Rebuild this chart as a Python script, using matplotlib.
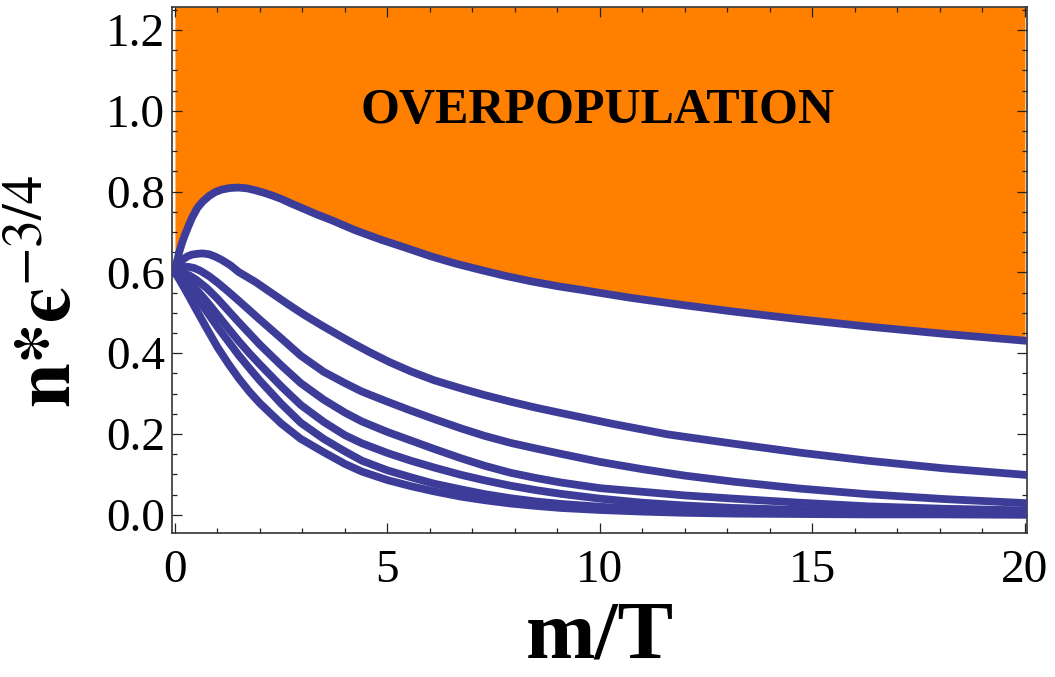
import numpy as np
import matplotlib
matplotlib.use("Agg")
import matplotlib.pyplot as plt
from matplotlib.ticker import MultipleLocator, FormatStrFormatter

plt.rcParams['font.family'] = ['Liberation Serif', 'DejaVu Serif']
plt.rcParams['mathtext.fontset'] = 'stix'

# curves (x = m/T, y = n*eps^-3/4)
x1 = [0, 0.05, 0.1, 0.16, 0.22, 0.3, 0.4, 0.53, 0.65, 0.8, 0.95, 1.1, 1.3, 1.5, 1.7,
      1.9, 2.1, 2.3, 2.5, 2.75, 3.04, 3.35, 3.67, 4.25, 4.85, 5.4, 6.02, 6.6, 7.2,
      7.75, 8.38, 9.0, 9.55, 10.02, 10.73, 11.9, 13.15, 14.7, 16.3, 18.1, 20]
y1 = [0.600, 0.628, 0.650, 0.671, 0.689, 0.710, 0.735, 0.760, 0.775, 0.789, 0.799,
      0.805, 0.809, 0.810, 0.808, 0.803, 0.797, 0.790, 0.782, 0.770, 0.757, 0.743,
      0.730, 0.704, 0.681, 0.662, 0.640, 0.622, 0.606, 0.592, 0.578, 0.566, 0.557,
      0.549, 0.537, 0.520, 0.503, 0.484, 0.466, 0.448, 0.431]

x2 = [0, 0.05, 0.1, 0.2, 0.3, 0.4, 0.52, 0.65, 0.8, 0.95, 1.1, 1.3, 1.5, 1.9, 2.26,
      2.65, 3.04, 3.45, 3.83, 4.2, 4.61, 5.05, 5.55, 6.1, 6.73, 7.3, 7.9, 8.5, 9.08,
      10.26, 11.6, 13.15, 14.7, 16.3, 18.1, 20]
y2 = [0.600, 0.611, 0.620, 0.633, 0.640, 0.644, 0.646, 0.647, 0.645, 0.639, 0.631,
      0.618, 0.601, 0.576, 0.550, 0.522, 0.495, 0.469, 0.446, 0.424, 0.401, 0.378,
      0.355, 0.333, 0.313, 0.296, 0.280, 0.265, 0.252, 0.226, 0.199, 0.176, 0.154,
      0.134, 0.115, 0.099]

x3 = [0, 0.08, 0.15, 0.22, 0.3, 0.45, 0.6, 0.8, 1.0, 1.25, 1.5, 2.0, 2.5, 2.96, 3.5,
      4.0, 4.4, 5.0, 5.55, 6.1, 6.73, 7.3, 7.9, 8.5, 9.08, 10.0, 11.0, 12.0, 13.15,
      14.7, 16.3, 18.1, 20]
y3 = [0.600, 0.607, 0.611, 0.613, 0.614, 0.611, 0.604, 0.591, 0.575, 0.553, 0.530,
      0.483, 0.437, 0.394, 0.354, 0.326, 0.305, 0.280, 0.258, 0.237, 0.214, 0.195,
      0.178, 0.164, 0.151, 0.131, 0.113, 0.097, 0.082, 0.065, 0.051, 0.039, 0.029]

# the four lowest curves share the same x samples
x_low = [0, 0.1, 0.2, 0.35, 0.5, 0.75, 1.0, 1.25, 1.5, 1.75, 2.0, 2.5, 2.96, 3.5,
         4.0, 4.4, 5.0, 5.55, 6.1, 6.73, 7.3, 7.9, 8.5, 9.08, 10.0, 11.0, 12.0,
         13.15, 14.7, 16.3, 18.1, 20]
y4 = [0.600, 0.600, 0.598, 0.592, 0.582, 0.561, 0.535, 0.506, 0.477, 0.449, 0.421,
      0.370, 0.326, 0.285, 0.253, 0.231, 0.205, 0.184, 0.163, 0.140, 0.121, 0.104,
      0.091, 0.080, 0.066, 0.057, 0.048, 0.040, 0.030, 0.021, 0.015, 0.011]
y5 = [0.600, 0.596, 0.590, 0.576, 0.558, 0.528, 0.495, 0.462, 0.430, 0.400, 0.372,
      0.318, 0.272, 0.230, 0.197, 0.177, 0.153, 0.134, 0.117, 0.099, 0.085, 0.072,
      0.061, 0.052, 0.040, 0.030, 0.023, 0.017, 0.012, 0.008, 0.006, 0.005]
y6 = [0.600, 0.593, 0.585, 0.565, 0.540, 0.503, 0.465, 0.430, 0.395, 0.363, 0.332,
      0.275, 0.228, 0.188, 0.157, 0.134, 0.110, 0.093, 0.077, 0.063, 0.051, 0.041,
      0.033, 0.027, 0.020, 0.014, 0.010, 0.007, 0.005, 0.003, 0.002, 0.002]
y7 = [0.600, 0.583, 0.565, 0.537, 0.508, 0.461, 0.415, 0.375, 0.338, 0.305, 0.276,
      0.226, 0.188, 0.155, 0.126, 0.107, 0.086, 0.071, 0.058, 0.045, 0.036, 0.028,
      0.022, 0.017, 0.012, 0.008, 0.005, 0.003, 0.002, 0.001, 0.001, 0.000]

curves = [(x1, y1), (x2, y2), (x3, y3), (x_low, y4), (x_low, y5), (x_low, y6), (x_low, y7)]

blue = '#3d3c99'
orange = '#ff7f00'

fig = plt.figure(figsize=(10.55, 6.77), dpi=100)
ax = fig.add_axes([0.163, 0.2127, 0.8105, 0.777])

ymin, ymax = -0.045, 1.257
ax.set_xlim(-0.07, 20.05)
ax.set_ylim(ymin, ymax)

# overpopulated region above the top curve
ax.fill_between(x1, y1, ymax, color=orange, lw=0, zorder=1)

for xs, ys in curves:
    ax.plot(xs, ys, color=blue, lw=5.6, solid_joinstyle='round', zorder=3)

ax.text(9.95, 1.0, 'OVERPOPULATION', fontsize=36, fontweight='bold',
        ha='center', va='center', zorder=4)

ax.xaxis.set_major_locator(MultipleLocator(5))
ax.xaxis.set_minor_locator(MultipleLocator(1))
ax.yaxis.set_major_locator(MultipleLocator(0.2))
ax.yaxis.set_minor_locator(MultipleLocator(0.05))
ax.yaxis.set_major_formatter(FormatStrFormatter('%.1f'))

ax.tick_params(which='both', direction='in', top=True, right=True, width=0.9, color='#222222')
ax.tick_params(which='major', length=7, labelsize=34)
ax.tick_params(which='minor', length=3.5)
ax.tick_params(axis='x', which='major', pad=12)
ax.tick_params(axis='y', which='major', pad=5)

for s in ax.spines.values():
    s.set_linewidth(1.2)
    s.set_color('#333333')

ax.set_xlabel('m/T', fontsize=60, fontweight='bold')
ax.xaxis.set_label_coords(0.5, -0.128)
ax.set_ylabel('$\\mathbf{n}\\mathbf{*}\\mathbf{\u03f5}^{-3/4}$', fontsize=58)
ax.yaxis.set_label_coords(-0.098, 0.46)

fig.savefig('out.png', dpi=100)
